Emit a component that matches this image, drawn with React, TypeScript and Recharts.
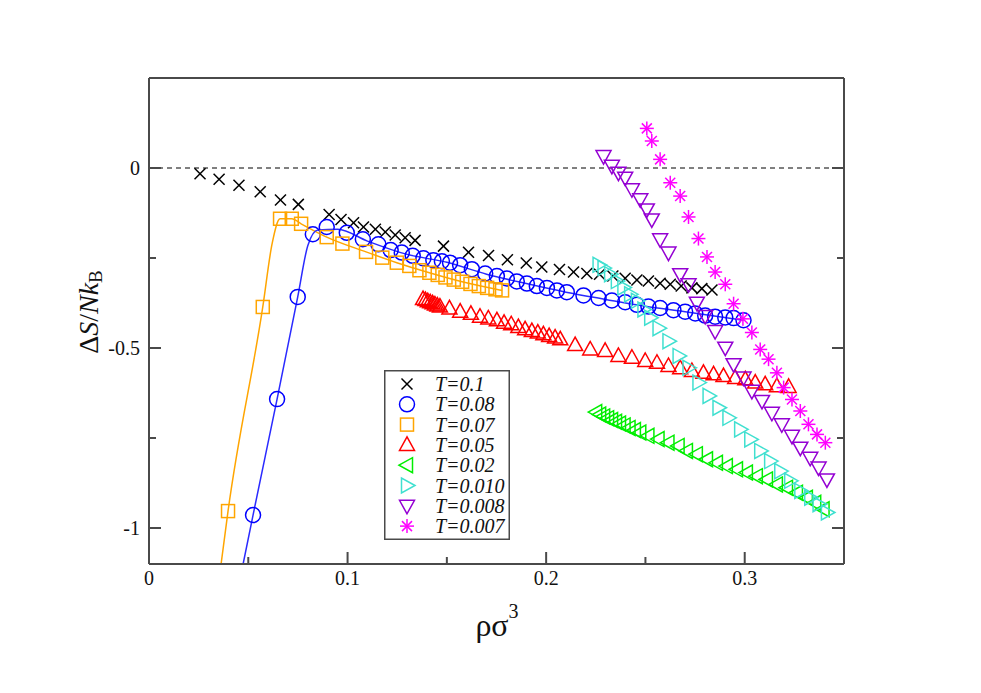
import React from 'react';
import { ComposedChart, Scatter, Line, XAxis, YAxis, ReferenceLine, Legend } from 'recharts';

type Pt = [number, number];

// T = 0.1 (crosses)
const T_0100: Pt[] = [
  [0.0257, -0.016], [0.0353, -0.031], [0.0453, -0.048], [0.056, -0.066], [0.0662, -0.089],
  [0.0752, -0.101], [0.0907, -0.129], [0.0967, -0.143], [0.103, -0.152], [0.108, -0.164],
  [0.114, -0.17], [0.119, -0.178], [0.124, -0.186], [0.129, -0.194], [0.134, -0.201],
  [0.1483, -0.217], [0.1609, -0.234], [0.171, -0.243], [0.1805, -0.255], [0.19, -0.264],
  [0.1978, -0.275], [0.2067, -0.282], [0.2138, -0.289], [0.2205, -0.293], [0.2269, -0.295],
  [0.2336, -0.3], [0.2398, -0.306], [0.2457, -0.311], [0.2515, -0.314], [0.2574, -0.32],
  [0.2625, -0.323], [0.268, -0.328], [0.2734, -0.333], [0.2784, -0.335], [0.2835, -0.339],
];

// T = 0.08 (circles)
const T_0080: Pt[] = [
  [0.0524, -0.964], [0.0645, -0.642], [0.0749, -0.358], [0.0825, -0.184], [0.0895, -0.164],
  [0.0996, -0.18], [0.1077, -0.198], [0.1155, -0.212], [0.1217, -0.228], [0.1273, -0.235],
  [0.1328, -0.244], [0.1382, -0.251], [0.1432, -0.256], [0.1475, -0.259], [0.1516, -0.263],
  [0.1567, -0.27], [0.1626, -0.281], [0.1693, -0.293], [0.1752, -0.3], [0.1802, -0.307],
  [0.1852, -0.315], [0.1903, -0.321], [0.1953, -0.328], [0.2004, -0.333], [0.2054, -0.34],
  [0.2104, -0.345], [0.2188, -0.354], [0.2264, -0.361], [0.2331, -0.368], [0.2398, -0.373],
  [0.2457, -0.38], [0.2515, -0.385], [0.2574, -0.389], [0.2641, -0.395], [0.27, -0.399],
  [0.2751, -0.404], [0.2801, -0.41], [0.2851, -0.413], [0.2902, -0.415], [0.2944, -0.417],
  [0.2994, -0.423],
];

// T = 0.07 (squares)
const T_0070: Pt[] = [
  [0.0398, -0.953], [0.0573, -0.386], [0.066, -0.141], [0.0719, -0.141], [0.0766, -0.155],
  [0.0895, -0.192], [0.0974, -0.21], [0.1093, -0.233], [0.1175, -0.249], [0.1248, -0.263],
  [0.1311, -0.272], [0.1362, -0.284], [0.1412, -0.291], [0.1454, -0.297], [0.1493, -0.304],
  [0.1535, -0.31], [0.1577, -0.316], [0.1619, -0.322], [0.1661, -0.328], [0.1703, -0.333],
  [0.1745, -0.337], [0.1778, -0.34],
];

// T = 0.05 (up triangles)
const T_0050: Pt[] = [
  [0.138, -0.364], [0.1392, -0.367], [0.1404, -0.37], [0.1416, -0.373], [0.1428, -0.376],
  [0.144, -0.379], [0.1452, -0.382], [0.1465, -0.385], [0.1513, -0.39], [0.1567, -0.399],
  [0.1621, -0.405], [0.1667, -0.413], [0.1709, -0.418], [0.1752, -0.423], [0.1788, -0.43],
  [0.1824, -0.434], [0.186, -0.442], [0.1894, -0.448], [0.1928, -0.453], [0.1958, -0.457],
  [0.1986, -0.462], [0.2015, -0.467], [0.2045, -0.471], [0.2071, -0.476], [0.2146, -0.492],
  [0.2222, -0.504], [0.2297, -0.508], [0.2364, -0.522], [0.2432, -0.527], [0.2499, -0.536],
  [0.2558, -0.541], [0.2616, -0.55], [0.2675, -0.556], [0.2734, -0.564], [0.2792, -0.569],
  [0.2843, -0.573], [0.2893, -0.578], [0.2952, -0.583], [0.3003, -0.587], [0.3053, -0.596],
  [0.3103, -0.601], [0.3162, -0.606], [0.3221, -0.608],
];

// T = 0.02 (left triangles)
const T_0020: Pt[] = [
  [0.2252, -0.678], [0.2272, -0.685], [0.2292, -0.69], [0.2312, -0.695], [0.2332, -0.7],
  [0.2352, -0.705], [0.2372, -0.71], [0.2395, -0.715], [0.242, -0.722], [0.2447, -0.728],
  [0.2474, -0.735], [0.2515, -0.744], [0.2566, -0.753], [0.2616, -0.763], [0.2667, -0.772],
  [0.2709, -0.786], [0.2759, -0.795], [0.281, -0.809], [0.286, -0.819], [0.291, -0.828],
  [0.2961, -0.837], [0.3011, -0.846], [0.3061, -0.856], [0.3112, -0.865], [0.3162, -0.879],
  [0.3213, -0.888], [0.3263, -0.902], [0.3313, -0.916], [0.3355, -0.93], [0.3397, -0.948],
];

// T = 0.010 (right triangles)
const T_0010: Pt[] = [
  [0.2264, -0.269], [0.2289, -0.278], [0.2322, -0.295], [0.2356, -0.314], [0.2389, -0.332],
  [0.2423, -0.351], [0.2457, -0.369], [0.249, -0.393], [0.2524, -0.416], [0.2566, -0.445],
  [0.2616, -0.481], [0.2667, -0.522], [0.2717, -0.555], [0.2767, -0.596], [0.2818, -0.633],
  [0.2868, -0.666], [0.2918, -0.694], [0.2977, -0.726], [0.3028, -0.754], [0.3078, -0.786],
  [0.3128, -0.814], [0.3179, -0.842], [0.3229, -0.869], [0.328, -0.897], [0.333, -0.916],
  [0.3372, -0.934], [0.3414, -0.957],
];

// T = 0.008 (down triangles)
const T_0008: Pt[] = [
  [0.2289, 0.033], [0.2331, 0.006], [0.2364, -0.013], [0.2398, -0.027], [0.2432, -0.059],
  [0.2474, -0.087], [0.2507, -0.115], [0.2532, -0.143], [0.2574, -0.198], [0.2616, -0.235],
  [0.2675, -0.295], [0.2717, -0.323], [0.2759, -0.374], [0.2801, -0.411], [0.2851, -0.453],
  [0.2902, -0.499], [0.2944, -0.545], [0.2994, -0.582], [0.3036, -0.619], [0.3087, -0.647],
  [0.3137, -0.68], [0.3187, -0.712], [0.3238, -0.744], [0.328, -0.777], [0.333, -0.805],
  [0.3372, -0.832], [0.3414, -0.865],
];

// T = 0.007 (stars)
const T_0007: Pt[] = [
  [0.2507, 0.11], [0.2532, 0.075], [0.2574, 0.024], [0.2625, -0.041], [0.2675, -0.078],
  [0.2717, -0.136], [0.2767, -0.196], [0.281, -0.247], [0.2851, -0.289], [0.2902, -0.323],
  [0.2944, -0.377], [0.2991, -0.419], [0.3036, -0.457], [0.3078, -0.504], [0.312, -0.531],
  [0.3162, -0.569], [0.3196, -0.61], [0.3238, -0.643], [0.328, -0.675], [0.3321, -0.712],
  [0.3364, -0.74], [0.3406, -0.763],
];

// fitted curves drawn through T=0.08 and T=0.07
const FIT_0080: Pt[] = [
  [0.0474, -1.1], [0.0524, -0.964], [0.0645, -0.642], [0.0749, -0.358], [0.08, -0.215],
  [0.085, -0.172], [0.095, -0.17], [0.11, -0.203], [0.13, -0.24], [0.15, -0.262],
  [0.17, -0.295], [0.19, -0.321], [0.21, -0.345], [0.23, -0.365], [0.25, -0.384],
  [0.27, -0.399], [0.2994, -0.423],
];
const FIT_0070: Pt[] = [
  [0.0363, -1.1], [0.0398, -0.953], [0.0573, -0.386], [0.062, -0.21], [0.066, -0.141],
  [0.0719, -0.141], [0.0766, -0.155], [0.0895, -0.192], [0.1093, -0.233], [0.1248, -0.263],
  [0.1412, -0.291], [0.1577, -0.316], [0.1778, -0.34],
];

const X_TICKS = [0, 0.05, 0.1, 0.15, 0.2, 0.25, 0.3];
const X_LABELS = [0, 0.1, 0.2, 0.3];
const Y_TICKS = [0, -0.25, -0.5, -0.75, -1];
const Y_LABELS = [0, -0.5, -1];

const FRAME = '#4a4a4a';
const SERIF = '"Liberation Serif", "DejaVu Serif", serif';

type Kind = 'x' | 'circle' | 'square' | 'up' | 'left' | 'right' | 'down' | 'star';

const SERIES: { name: string; data: Pt[]; color: string; kind: Kind }[] = [
  { name: 'T=0.1', data: T_0100, color: '#000000', kind: 'x' },
  { name: 'T=0.08', data: T_0080, color: '#0000ff', kind: 'circle' },
  { name: 'T=0.07', data: T_0070, color: '#ffa500', kind: 'square' },
  { name: 'T=0.05', data: T_0050, color: '#ff0000', kind: 'up' },
  { name: 'T=0.02', data: T_0020, color: '#00ee00', kind: 'left' },
  { name: 'T=0.010', data: T_0010, color: '#40e0d0', kind: 'right' },
  { name: 'T=0.008', data: T_0008, color: '#9400d3', kind: 'down' },
  { name: 'T=0.007', data: T_0007, color: '#ff00ff', kind: 'star' },
];

const toRows = (pts: Pt[]) => pts.map(([x, y]) => ({ x, y }));

const isIn = (list: number[], v: number) => list.some((m) => Math.abs(m - v) < 1e-9);

const Marker = ({ kind, color, cx, cy }: { kind: Kind; color: string; cx: number; cy: number }) => {
  const sw = 1.5;
  const common = { fill: 'none', stroke: color, strokeWidth: sw };
  switch (kind) {
    case 'x':
      return (
        <g {...common}>
          <line x1={cx - 5.5} y1={cy - 5.5} x2={cx + 5.5} y2={cy + 5.5} />
          <line x1={cx - 5.5} y1={cy + 5.5} x2={cx + 5.5} y2={cy - 5.5} />
        </g>
      );
    case 'circle':
      return <circle cx={cx} cy={cy} r={7.5} {...common} />;
    case 'square':
      return <rect x={cx - 6.5} y={cy - 6.5} width={13} height={13} {...common} />;
    case 'up':
      return <polygon points={`${cx},${cy - 8} ${cx - 7.5},${cy + 5.5} ${cx + 7.5},${cy + 5.5}`} {...common} />;
    case 'down':
      return <polygon points={`${cx},${cy + 8} ${cx - 7.5},${cy - 5.5} ${cx + 7.5},${cy - 5.5}`} {...common} />;
    case 'left':
      return <polygon points={`${cx - 8},${cy} ${cx + 5.5},${cy - 7.5} ${cx + 5.5},${cy + 7.5}`} {...common} />;
    case 'right':
      return <polygon points={`${cx + 8},${cy} ${cx - 5.5},${cy - 7.5} ${cx - 5.5},${cy + 7.5}`} {...common} />;
    case 'star':
      return (
        <g {...common}>
          <line x1={cx} y1={cy - 7} x2={cx} y2={cy + 7} />
          <line x1={cx - 7} y1={cy} x2={cx + 7} y2={cy} />
          <line x1={cx - 5} y1={cy - 5} x2={cx + 5} y2={cy + 5} />
          <line x1={cx - 5} y1={cy + 5} x2={cx + 5} y2={cy - 5} />
        </g>
      );
    default:
      return null;
  }
};

const BottomTick = (props: any) => {
  const { x, y, payload } = props;
  const major = isIn(X_LABELS, payload.value);
  return (
    <g>
      <line x1={x} y1={y} x2={x} y2={y - (major ? 12 : 7)} stroke={FRAME} strokeWidth={2} />
      {major && (
        <text x={x} y={y + 21} textAnchor="middle" fontSize={20} fontFamily={SERIF} fill="#111">
          {payload.value}
        </text>
      )}
    </g>
  );
};

const TopTick = (props: any) => {
  const { x, y, payload } = props;
  const major = isIn(X_LABELS, payload.value);
  return <line x1={x} y1={y} x2={x} y2={y + (major ? 12 : 7)} stroke={FRAME} strokeWidth={2} />;
};

const LeftTick = (props: any) => {
  const { x, y, payload } = props;
  const major = isIn(Y_LABELS, payload.value);
  return (
    <g>
      <line x1={x} y1={y} x2={x + (major ? 12 : 7)} y2={y} stroke={FRAME} strokeWidth={2} />
      {major && (
        <text x={x - 9} y={y} dy="0.35em" textAnchor="end" fontSize={20} fontFamily={SERIF} fill="#111">
          {payload.value}
        </text>
      )}
    </g>
  );
};

const RightTick = (props: any) => {
  const { x, y, payload } = props;
  const major = isIn(Y_LABELS, payload.value);
  return <line x1={x} y1={y} x2={x - (major ? 12 : 7)} y2={y} stroke={FRAME} strokeWidth={2} />;
};

const LegendBox = () => (
  <svg width={126} height={170} style={{ display: 'block' }}>
    <rect x={0.75} y={0.75} width={124.5} height={168.5} fill="#fff" stroke={FRAME} strokeWidth={1.5} />
    {SERIES.map((s, i) => {
      const cy = 14 + i * 20.3;
      return (
        <g key={s.name}>
          <Marker kind={s.kind} color={s.color} cx={23} cy={cy} />
          <text x={51} y={cy} dy="0.35em" fontSize={20} fontStyle="italic" fontFamily={SERIF} fill="#111">
            {s.name}
          </text>
        </g>
      );
    })}
  </svg>
);

const App = () => {
  const W = 965;
  const H = 677;
  return (
    <div style={{ position: 'relative', width: W, height: H, background: '#fff' }}>
      <ComposedChart width={W} height={H} margin={{ top: 60, right: 119, bottom: 81, left: 81 }}>
        <XAxis
          xAxisId="b"
          dataKey="x"
          type="number"
          domain={[0, 0.35]}
          allowDataOverflow
          ticks={X_TICKS}
          interval={0}
          height={40}
          tickSize={0}
          tickMargin={0}
          tickLine={false}
          tick={<BottomTick />}
          axisLine={{ stroke: FRAME, strokeWidth: 2 }}
        />
        <XAxis
          xAxisId="t"
          orientation="top"
          type="number"
          domain={[0, 0.35]}
          allowDataOverflow
          ticks={X_TICKS}
          interval={0}
          height={10}
          tickSize={0}
          tickMargin={0}
          tickLine={false}
          tick={<TopTick />}
          axisLine={{ stroke: FRAME, strokeWidth: 2 }}
        />
        <YAxis
          yAxisId="l"
          type="number"
          domain={[-1.1, 0.25]}
          allowDataOverflow
          ticks={Y_TICKS}
          interval={0}
          width={60}
          tickSize={0}
          tickMargin={0}
          tickLine={false}
          tick={<LeftTick />}
          axisLine={{ stroke: FRAME, strokeWidth: 2 }}
        />
        <YAxis
          yAxisId="r"
          orientation="right"
          type="number"
          domain={[-1.1, 0.25]}
          allowDataOverflow
          ticks={Y_TICKS}
          interval={0}
          width={10}
          tickSize={0}
          tickMargin={0}
          tickLine={false}
          tick={<RightTick />}
          axisLine={{ stroke: FRAME, strokeWidth: 2 }}
        />
        <ReferenceLine xAxisId="b" yAxisId="l" y={0} stroke="#000" strokeWidth={1} strokeDasharray="5 4" />
        <Line
          xAxisId="b"
          yAxisId="l"
          data={toRows(FIT_0070)}
          dataKey="y"
          type="monotone"
          stroke="#ffa500"
          strokeWidth={1.5}
          dot={false}
          legendType="none"
          isAnimationActive={false}
        />
        <Line
          xAxisId="b"
          yAxisId="l"
          data={toRows(FIT_0080)}
          dataKey="y"
          type="monotone"
          stroke="#2a2aff"
          strokeWidth={1.5}
          dot={false}
          legendType="none"
          isAnimationActive={false}
        />
        {SERIES.map((s) => (
          <Scatter
            key={s.name}
            name={s.name}
            xAxisId="b"
            yAxisId="l"
            data={toRows(s.data)}
            dataKey="y"
            isAnimationActive={false}
            shape={(p: any) => <Marker kind={s.kind} color={s.color} cx={p.cx} cy={p.cy} />}
          />
        ))}
        <Legend
          layout="vertical"
          align="center"
          verticalAlign="middle"
          content={() => <LegendBox />}
          wrapperStyle={{ left: 376, top: 362, width: 126, height: 170 }}
        />
      </ComposedChart>
      <svg
        width={W}
        height={H}
        style={{ position: 'absolute', left: 0, top: 0, pointerEvents: 'none' }}
      >
        <text
          transform="translate(90, 304) rotate(-90)"
          textAnchor="middle"
          fontSize={28}
          fontFamily={SERIF}
          fill="#111"
        >
          <tspan>Δ</tspan>
          <tspan fontStyle="italic">S</tspan>
          <tspan>/</tspan>
          <tspan fontStyle="italic">Nk</tspan>
          <tspan fontSize={19} dy={4}>B</tspan>
        </text>
        <text x={489} y={628} textAnchor="middle" fontSize={32} fontFamily={SERIF} fill="#111">
          <tspan>ρσ</tspan>
          <tspan fontSize={20} dy={-18}>3</tspan>
        </text>
      </svg>
    </div>
  );
};

export default App;
